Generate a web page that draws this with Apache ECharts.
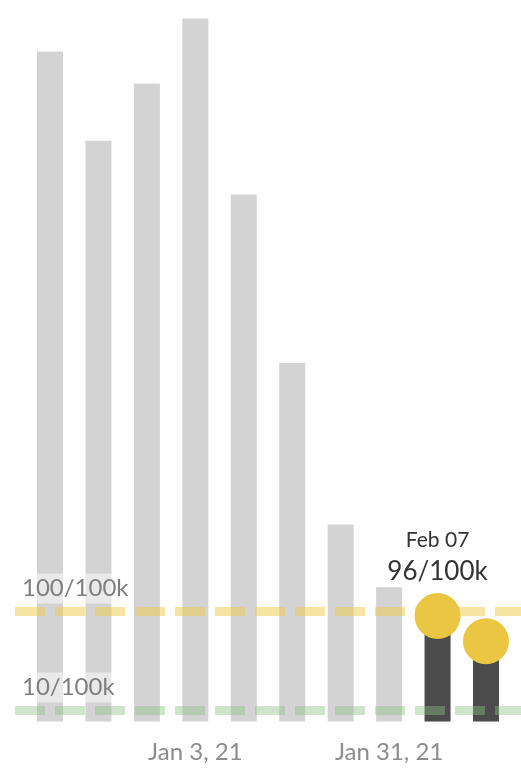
<!DOCTYPE html>
<html>
<head>
<meta charset="utf-8">
<script src="https://cdn.jsdelivr.net/npm/echarts@6/dist/echarts.min.js"></script>
<style>
  html, body { margin: 0; padding: 0; background: #ffffff; }
  #chart { width: 521px; height: 768px; }
</style>
</head>
<body>
<div id="chart"></div>
<script>
// ---- data ----
const categories = ['Dec 13, 20', 'Dec 20, 20', 'Dec 27, 20', 'Jan 3, 21', 'Jan 10, 21',
                    'Jan 17, 21', 'Jan 24, 21', 'Jan 31, 21', 'Feb 7, 21', 'Feb 14, 21'];
const pastValues = [609, 528, 580, 639, 479, 326, 179, 122, null, null];
const recentValues = [null, null, null, null, null, null, null, null, 96, 73];
const tickLabels = ['Jan 3, 21', 'Jan 31, 21'];
const thresholds = [100, 10];
const thresholdLabels = ['100/100k', '10/100k'];
const calloutIndex = 8;
const calloutDate = 'Feb 07';
const calloutText = '96/100k';

const FONT = 'Lato, "Open Sans", sans-serif';
const yMax = 640;

const chart = echarts.init(document.getElementById('chart'));

const refColors = ['rgba(238, 201, 70, 0.5)', 'rgba(140, 192, 130, 0.42)'];

const refSeries = thresholds.map((t, i) => ({
  type: 'line',
  xAxisIndex: 1,
  yAxisIndex: 1,
  data: [[0, t], [1, t]],
  symbol: 'circle',
  symbolSize: 0,
  showSymbol: true,
  silent: true,
  z: 5,
  lineStyle: { color: refColors[i], width: 9, type: [30, 10], cap: 'butt' },
  label: {
    show: true,
    formatter: (p) => p.dataIndex === 0 ? thresholdLabels[i] : '',
    position: [4, -23],
    align: 'left',
    verticalAlign: 'middle',
    fontFamily: FONT,
    fontSize: 24,
    lineHeight: 24,
    color: '#7f7f7f',
    backgroundColor: 'rgba(255,255,255,0.5)',
    padding: [5, 3, 1, 3]
  }
}));

const scatterData = recentValues.map((v, i) => (v == null ? null : [i, v]));

chart.setOption({
  animation: false,
  grid: [
    { left: 25.8, right: 10.8, top: 17.5, bottom: 46.5 },
    { left: 15, right: 0, top: 17.5, bottom: 46.5 }
  ],
  xAxis: [
    {
      type: 'category',
      gridIndex: 0,
      data: categories,
      axisLine: { show: false },
      axisTick: { show: false },
      axisLabel: {
        interval: 0,
        formatter: (v) => (tickLabels.includes(v) ? v : ''),
        fontFamily: FONT,
        fontSize: 24,
        color: '#8c8c8c',
        margin: 19
      }
    },
    { type: 'value', gridIndex: 1, min: 0, max: 1, show: false }
  ],
  yAxis: [
    { type: 'value', gridIndex: 0, min: 0, max: yMax, show: false },
    { type: 'value', gridIndex: 1, min: 0, max: yMax, show: false }
  ],
  series: [
    {
      type: 'bar',
      data: pastValues,
      barWidth: 26,
      barGap: '-100%',
      itemStyle: { color: '#d3d3d3' },
      z: 2
    },
    {
      type: 'bar',
      data: recentValues,
      barWidth: 26,
      barGap: '-100%',
      itemStyle: { color: '#4b4b4b' },
      z: 2
    },
    ...refSeries,
    {
      type: 'scatter',
      data: scatterData,
      symbolSize: 46,
      itemStyle: { color: '#ebc642', opacity: 1 },
      z: 10,
      label: {
        show: true,
        position: 'top',
        distance: 6,
        formatter: (p) => p.data && p.data[0] === calloutIndex ? '{a|' + calloutDate + '}\n{b|' + calloutText + '}' : '',
        rich: {
          a: { fontFamily: FONT, fontSize: 21, lineHeight: 34, color: '#333333', align: 'center' },
          b: { fontFamily: FONT, fontSize: 26, lineHeight: 30, color: '#333333', align: 'center' }
        }
      }
    }
  ]
});
</script>
</body>
</html>
